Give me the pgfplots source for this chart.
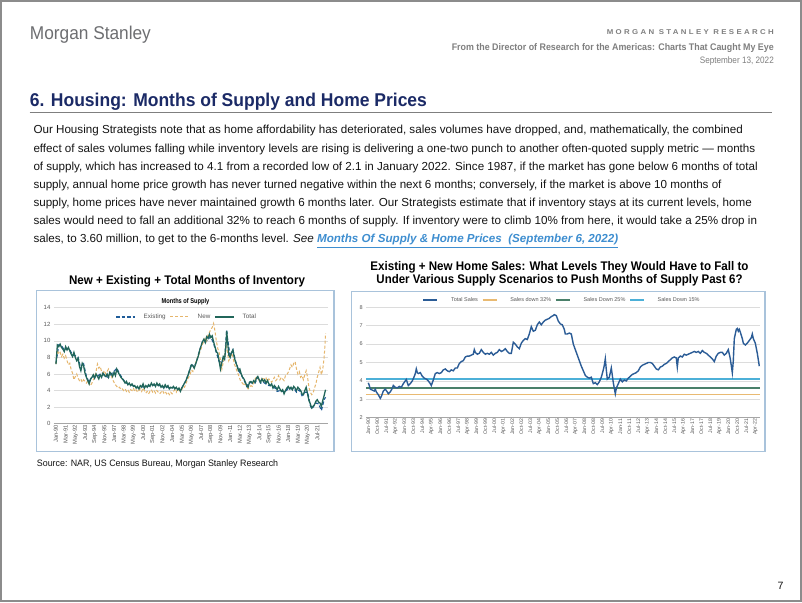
\documentclass[border=0pt]{standalone}
\usepackage{fontspec}
\setmainfont{Liberation Sans}
\usepackage{graphicx}
\usepackage{pgfplots}
\pgfplotsset{compat=1.18}
\definecolor{pagegray}{HTML}{8C8C8C}
\definecolor{msgray}{HTML}{6D6E71}
\definecolor{headgray}{HTML}{7F7F7F}
\definecolor{navy}{HTML}{1B2A66}
\definecolor{bodytext}{HTML}{141414}
\definecolor{linkblue}{HTML}{3E8ED0}
\definecolor{framebl}{HTML}{A9C3DB}
\definecolor{gridc}{HTML}{DCDCDC}
\definecolor{axisc}{HTML}{A6A6A6}
\definecolor{tickc}{HTML}{595959}
\definecolor{exblue}{HTML}{1F5C99}
\definecolor{newtan}{HTML}{E6B66C}
\definecolor{totgreen}{HTML}{21665A}
\definecolor{salesblue}{HTML}{2B5C96}
\definecolor{dtt}{HTML}{E9BA72}
\definecolor{dtf}{HTML}{4A806A}
\definecolor{dff}{HTML}{4CB0D8}
\newcommand{\fs}[1]{\fontsize{#1}{#1}\selectfont}
\begin{document}
\begin{tikzpicture}
\begin{scope}[x=1pt,y=1pt]
\fill[white] (0,0) rectangle (802,602);
\draw[pagegray,line width=2] (1,1) rectangle (801,601);
% header
\node[anchor=base west,inner sep=0,text=msgray] at (29.7,562.5) {\resizebox{121pt}{\height}{\fs{18.5}Morgan Stanley}};
\node[anchor=base east,inner sep=0,text=headgray] at (774,567.3) {\resizebox{167pt}{\height}{\fs{7}\bfseries\addfontfeature{LetterSpace=30}MORGAN STANLEY RESEARCH}};
\node[anchor=base east,inner sep=0,text=headgray] at (774,551.3) {\resizebox{322pt}{\height}{\fs{9.6}\bfseries From the Director of Research for the Americas: Charts That Caught My Eye}};
\node[anchor=base east,inner sep=0,text=headgray] at (774,538.7) {\resizebox{74pt}{\height}{\fs{9.3}September 13, 2022}};
\node[anchor=base west,inner sep=0,text=navy] at (29.7,495.5) {\resizebox{397pt}{\height}{\fs{18.5}\bfseries 6. Housing: Months of Supply and Home Prices}};
\draw[headgray,line width=1] (29.7,489.7) -- (772,489.7);
% paragraph
\begin{scope}[every node/.style={anchor=base west,inner sep=0,text=bodytext,font=\fs{11.63}}]
\node at (33.3,468) {Our Housing Strategists note that as home affordability has deteriorated, sales volumes have dropped, and, mathematically, the combined};
\node at (33.3,449.85) {effect of sales volumes falling while inventory levels are rising is delivering a one-two punch to another often-quoted supply metric — months};
\node at (33.3,431.7) {of supply, which has increased to 4.1 from a recorded low of 2.1 in January 2022. Since 1987, if the market has gone below 6 months of total};
\node at (33.3,413.55) {supply, annual home price growth has never turned negative within the next 6 months; conversely, if the market is above 10 months of};
\node at (33.3,395.4) {supply, home prices have never maintained growth 6 months later. Our Strategists estimate that if inventory stays at its current levels, home};
\node at (33.3,377.25) {sales would need to fall an additional 32\% to reach 6 months of supply. If inventory were to climb 10\% from here, it would take a 25\% drop in};
\node at (33.3,359.1) {sales, to 3.60 million, to get to the 6-months level. \textit{See} {\color{linkblue}\bfseries\itshape\underline{Months Of Supply \& Home Prices\ \ (September 6, 2022)}}};
\end{scope}
% chart titles
\node[anchor=base,inner sep=0] at (187,317) {\resizebox{236pt}{\height}{\fs{12.5}\bfseries New + Existing + Total Months of Inventory}};
\node[anchor=base,inner sep=0] at (559.5,331.3) {\resizebox{378pt}{\height}{\fs{12.5}\bfseries Existing + New Home Sales: What Levels They Would Have to Fall to}};
\node[anchor=base,inner sep=0] at (559.5,318) {\resizebox{366pt}{\height}{\fs{12.5}\bfseries Under Various Supply Scenarios to Push Months of Supply Past 6?}};
% frames
\draw[framebl,line width=1.5] (36.7,150.3) rectangle (334,311.3);
\draw[framebl,line width=1.5] (351.7,150.3) rectangle (765,310.3);
\node[anchor=base,inner sep=0] at (185.5,298.7) {\resizebox{47.6pt}{\height}{\fs{7}\bfseries Months of Supply}};
% source and page number
\node[anchor=base west,inner sep=0,text=bodytext] at (36.7,135.3) {\resizebox{241.3pt}{\height}{\fs{9.3}Source: NAR, US Census Bureau, Morgan Stanley Research}};
\node[anchor=base west,inner sep=0,text=bodytext] at (777.3,12.7) {\fs{10.6}7};
\end{scope}

% ---------------- left chart
\begin{axis}[
  at={(53.9pt,178.3pt)}, anchor=south west, scale only axis,
  width=274.4pt, height=116pt,
  xmin=-3, xmax=394, ymin=0, ymax=14, enlargelimits=false, clip=false,
  axis line style={draw=none}, major tick length=0pt,
  ytick={0,2,...,14}, ymajorgrids, grid style={gridc,line width=0.6pt},
  xtick={0,14,...,378},
  xticklabels={Jan-90,Mar-91,May-92,Jul-93,Sep-94,Nov-95,Jan-97,Mar-98,May-99,Jul-00,Sep-01,Nov-02,Jan-04,Mar-05,May-06,Jul-07,Sep-08,Nov-09,Jan-11,Mar-12,May-13,Jul-14,Sep-15,Nov-16,Jan-18,Mar-19,May-20,Jul-21},
  xticklabel style={rotate=90,anchor=east,font=\fs{5.8},text=tickc,inner sep=1pt},
  yticklabel style={font=\fs{6},text=tickc},
  /pgf/number format/assume math mode=true,
  legend style={at={(0.484,0.92)},anchor=center,draw=none,fill=none,font=\fs{6.3},text=tickc,legend columns=3,
    /tikz/every even column/.append style={column sep=2pt},/tikz/every odd column/.append style={column sep=6pt}},
  legend image code/.code={\draw[#1] (0pt,0pt) -- (19pt,0pt);},
]
\draw[axisc,line width=1.2pt] (axis cs:-3,0) -- (axis cs:394,0);
\addplot[exblue,line width=1.2pt,dash pattern=on 3.5pt off 2pt] coordinates {
(0,7.3)(4,9.5)(8,9.4)(12,8.9)(16,9.1)(20,8.9)(24,8.3)(28,8.2)(32,8.0)(36,6.6)(40,7.2)(44,5.7)(48,5.0)(52,5.7)(56,5.6)(60,5.7)(64,6.0)(68,6.1)(72,5.7)(76,5.6)(80,6.0)(84,6.3)(88,6.7)(92,6.0)(96,5.5)(100,5.0)(104,4.8)(108,4.7)(112,4.6)(116,4.4)(120,4.3)(124,4.5)(128,4.4)(132,4.5)(136,4.6)(140,4.7)(144,4.6)(148,4.7)(152,4.5)(156,4.4)(160,4.5)(164,4.3)(168,4.4)(172,4.3)(176,4.2)(180,4.0)(184,4.6)(188,5.2)(192,6.1)(196,7.2)(200,6.8)(204,7.7)(208,8.9)(212,9.9)(216,9.8)(220,10.2)(224,10.5)(228,9.7)(232,8.6)(236,7.5)(240,7.4)(244,7.8)(247,11.3)(248,10.4)(252,8.1)(256,8.9)(260,7.5)(264,6.5)(268,5.9)(272,5.3)(276,4.5)(280,5.0)(284,4.9)(288,4.9)(292,5.6)(296,4.9)(300,5.0)(304,4.8)(308,4.6)(312,4.6)(316,4.4)(320,3.9)(324,4.0)(328,3.9)(332,3.8)(336,4.3)(340,4.2)(344,4.3)(348,3.8)(352,4.1)(356,3.4)(360,3.8)(364,3.8)(368,2.2)(370,1.8)(372,2.0)(376,2.5)(380,2.4)(384,1.6)(388,2.9)(390,3.2)
};
\addlegendentry{Existing}
\addplot[newtan,line width=1pt,dash pattern=on 3pt off 2pt] coordinates {
(0,7.2)(2,8.9)(4,8.4)(6,8.6)(8,8.1)(10,8.4)(12,7.9)(14,8.2)(16,7.6)(18,7.1)(20,7.3)(22,6.5)(24,6.1)(26,5.3)(28,5.7)(30,6.0)(32,5.5)(34,5.2)(36,5.4)(38,5.0)(40,5.3)(42,5.1)(44,4.9)(46,5.2)(48,4.8)(50,4.6)(52,4.9)(54,5.3)(56,5.6)(58,6.3)(60,7.2)(62,6.7)(64,6.9)(66,6.3)(68,6.1)(70,6.4)(72,6.0)(74,6.3)(76,6.6)(78,6.2)(80,5.8)(82,5.3)(84,5.0)(86,4.7)(88,4.5)(90,4.3)(92,4.4)(94,4.1)(96,4.2)(98,4.0)(100,4.2)(102,3.9)(104,4.1)(106,3.8)(108,4.1)(110,4.0)(112,4.3)(114,3.9)(116,4.1)(118,3.8)(120,4.0)(122,4.2)(124,3.9)(126,4.3)(128,4.0)(130,3.7)(132,3.9)(134,3.6)(136,3.9)(138,4.1)(140,3.8)(142,4.0)(144,3.7)(146,4.0)(148,3.8)(150,3.6)(152,3.8)(154,4.0)(156,3.7)(158,3.9)(160,3.6)(162,3.8)(164,3.5)(166,3.8)(168,3.6)(170,3.9)(172,4.1)(174,3.8)(176,4.2)(178,4.0)(180,4.3)(182,4.1)(184,4.5)(186,4.4)(188,4.8)(190,5.3)(192,5.6)(194,5.9)(196,6.5)(198,6.3)(200,6.8)(202,7.3)(204,7.8)(206,8.2)(208,8.6)(210,9.1)(212,9.6)(214,9.9)(216,10.4)(218,10.0)(220,10.8)(222,11.0)(224,11.4)(226,11.6)(228,12.1)(230,11.2)(232,10.0)(234,9.1)(236,8.6)(238,7.7)(240,6.6)(242,7.4)(244,8.0)(246,9.4)(248,8.7)(250,7.6)(252,8.0)(254,8.5)(256,8.1)(258,7.2)(260,6.8)(262,6.3)(264,5.9)(266,5.4)(268,5.0)(270,4.9)(272,4.6)(274,4.8)(276,4.5)(278,4.2)(280,4.4)(282,4.6)(284,4.5)(286,5.0)(288,5.4)(290,5.6)(292,5.5)(294,5.2)(296,5.4)(298,5.3)(300,5.6)(302,5.2)(304,5.5)(306,5.1)(308,5.4)(310,5.2)(312,5.0)(314,5.3)(316,5.6)(318,5.2)(320,5.4)(322,5.8)(324,5.3)(326,5.6)(328,5.4)(330,5.2)(332,5.8)(334,5.9)(336,6.2)(338,6.6)(340,7.1)(342,6.8)(344,7.3)(346,7.5)(348,6.6)(350,6.0)(352,6.3)(354,5.6)(356,5.8)(358,5.3)(360,5.9)(362,6.4)(364,5.6)(366,4.4)(368,3.8)(370,3.5)(372,3.7)(374,4.3)(376,4.8)(378,5.6)(380,6.2)(382,6.8)(384,5.9)(386,6.6)(388,8.0)(389,9.3)(390,10.9)
};
\addlegendentry{New}
\addplot[totgreen,line width=1.3pt] coordinates {
(0,7.2)(2,9.5)(4,9.3)(6,9.6)(8,9.2)(10,9.0)(12,8.7)(14,9.3)(16,8.9)(18,9.2)(20,8.8)(22,8.4)(24,8.1)(26,8.6)(28,8.0)(30,7.6)(32,7.9)(34,6.9)(36,6.4)(38,7.3)(40,7.0)(42,6.1)(44,5.6)(46,5.2)(48,4.8)(50,5.4)(52,5.6)(54,5.9)(56,5.5)(58,6.0)(60,5.7)(62,5.4)(64,5.9)(66,5.6)(68,6.1)(70,5.8)(72,5.7)(74,6.0)(76,5.6)(78,6.2)(80,6.0)(82,5.7)(84,6.2)(86,5.8)(88,6.6)(90,6.2)(92,5.9)(94,5.6)(96,5.4)(98,5.2)(100,4.9)(102,5.1)(104,4.7)(106,4.9)(108,4.6)(110,4.8)(112,4.5)(114,4.6)(116,4.3)(118,4.5)(120,4.2)(122,4.6)(124,4.4)(126,4.8)(128,4.3)(130,4.6)(132,4.4)(134,4.7)(136,4.5)(138,4.9)(140,4.6)(142,4.8)(144,4.5)(146,4.9)(148,4.6)(150,4.8)(152,4.4)(154,4.6)(156,4.3)(158,4.7)(160,4.4)(162,4.6)(164,4.2)(166,4.4)(168,4.3)(170,4.5)(172,4.2)(174,4.4)(176,4.1)(178,4.3)(180,3.9)(182,4.3)(184,4.6)(186,4.9)(188,5.2)(190,5.6)(192,6.1)(194,6.6)(196,7.1)(198,7.0)(200,6.7)(202,7.2)(204,7.7)(206,8.2)(208,8.9)(210,9.4)(212,9.9)(214,10.2)(216,9.8)(218,10.5)(220,10.3)(222,10.8)(224,10.4)(226,10.6)(228,9.9)(230,9.3)(232,8.7)(234,8.5)(236,7.6)(238,6.6)(240,7.4)(242,8.1)(244,7.8)(246,9.5)(247,11.2)(248,10.2)(250,8.3)(252,8.0)(254,8.6)(256,8.9)(258,8.0)(260,7.4)(262,7.0)(264,6.4)(266,6.6)(268,6.0)(270,5.6)(272,5.4)(274,5.0)(276,4.6)(278,4.4)(280,5.0)(282,5.1)(284,4.9)(286,5.2)(288,5.0)(290,5.5)(292,5.7)(294,5.3)(296,5.0)(298,5.4)(300,5.1)(302,5.3)(304,4.9)(306,5.2)(308,4.8)(310,4.6)(312,4.8)(314,4.3)(316,4.6)(318,4.4)(320,4.1)(322,4.5)(324,4.2)(326,3.9)(328,4.1)(330,3.6)(332,4.0)(334,4.3)(336,4.5)(338,4.2)(340,4.4)(342,4.1)(344,4.5)(346,4.3)(348,4.0)(350,4.4)(352,4.2)(354,4.0)(356,3.6)(358,3.5)(360,4.0)(362,4.4)(364,3.6)(366,2.8)(368,2.4)(370,1.9)(372,2.1)(374,2.3)(376,2.7)(378,2.9)(380,2.6)(382,2.5)(384,2.1)(386,2.8)(388,3.4)(390,4.1)
};
\addlegendentry{Total}
\end{axis}

% ---------------- right chart
\begin{axis}[
  at={(366.3pt,184.3pt)}, anchor=south west, scale only axis,
  width=394pt, height=110.4pt,
  xmin=-2, xmax=392, ymin=2, ymax=8, enlargelimits=false, clip=false,
  axis line style={draw=none}, major tick length=0pt,
  ytick={2,3,...,8}, ymajorgrids, grid style={gridc,line width=0.6pt},
  xtick={0,9,...,387},
  xticklabels={Jan-90,Oct-90,Jul-91,Apr-92,Jan-93,Oct-93,Jul-94,Apr-95,Jan-96,Oct-96,Jul-97,Apr-98,Jan-99,Oct-99,Jul-00,Apr-01,Jan-02,Oct-02,Jul-03,Apr-04,Jan-05,Oct-05,Jul-06,Apr-07,Jan-08,Oct-08,Jul-09,Apr-10,Jan-11,Oct-11,Jul-12,Apr-13,Jan-14,Oct-14,Jul-15,Apr-16,Jan-17,Oct-17,Jul-18,Apr-19,Jan-20,Oct-20,Jul-21,Apr-22},
  xticklabel style={rotate=90,anchor=east,font=\fs{5.2},text=tickc,inner sep=1pt},
  yticklabel style={font=\fs{5.5},text=tickc},
  /pgf/number format/assume math mode=true,
  legend style={at={(0.497,1.067)},anchor=center,draw=none,fill=none,font=\fs{5.5},text=tickc,legend columns=4,
    /tikz/every even column/.append style={column sep=2pt},/tikz/every odd column/.append style={column sep=11pt}},
  legend image code/.code={\draw[#1] (0pt,0pt) -- (14pt,0pt);},
]
\draw[axisc,line width=1.2pt] (axis cs:-2,2) -- (axis cs:392,2);
\addplot[dtt,line width=1.3pt,forget plot] coordinates {(-2,3.25)(392,3.25)};
\addplot[dtf,line width=1.8pt,forget plot] coordinates {(-2,3.6)(392,3.6)};
\addplot[dff,line width=1.4pt,forget plot] coordinates {(-2,4.1)(392,4.1)};
\addplot[salesblue,line width=1.4pt] coordinates {
(0,3.90)(1,3.75)(2,3.55)(4,3.50)(6,3.45)(7,3.55)(8,3.40)(10,3.25)(12,3.05)(13,3.15)(15,3.45)(17,3.55)(19,3.40)(20,3.30)(22,3.40)(24,3.60)(25,3.75)(27,3.65)(29,3.62)(31,3.70)(33,3.65)(35,3.85)(37,4.00)(38,4.08)(40,3.75)(42,3.85)(44,4.00)(46,4.25)(47,4.40)(48,4.65)(49,4.45)(50,4.40)(52,4.45)(54,4.25)(56,4.15)(58,4.10)(60,4.00)(62,3.85)(63,3.75)(65,4.05)(67,4.40)(69,4.45)(71,4.40)(73,4.45)(75,4.60)(77,4.65)(79,4.55)(81,4.50)(83,4.60)(85,4.55)(87,4.70)(89,4.70)(91,4.95)(93,5.05)(95,5.10)(97,5.30)(99,5.35)(101,5.35)(103,5.40)(105,5.45)(106,5.70)(107,5.55)(109,5.45)(111,5.50)(113,5.70)(115,5.55)(117,5.45)(119,5.50)(121,5.45)(123,5.55)(125,5.40)(127,5.50)(129,5.55)(131,5.70)(133,5.60)(135,5.65)(137,5.75)(139,5.60)(141,5.50)(143,5.50)(145,6.10)(147,6.00)(149,5.85)(151,5.75)(153,6.05)(155,6.20)(157,6.30)(159,6.25)(161,6.55)(163,6.95)(165,6.70)(167,6.75)(169,7.05)(171,7.20)(173,7.05)(175,7.20)(177,7.30)(179,7.35)(181,7.40)(183,7.50)(185,7.55)(186,7.60)(188,7.55)(190,7.25)(192,7.10)(194,7.05)(196,6.80)(197,6.55)(199,6.55)(201,6.60)(203,6.55)(205,6.00)(207,5.70)(209,5.40)(211,5.10)(213,4.80)(215,4.55)(217,4.30)(219,4.20)(221,4.15)(223,4.20)(225,3.85)(227,3.90)(229,3.80)(231,3.95)(233,4.20)(235,4.60)(236,4.85)(237,5.20)(238,4.60)(239,4.10)(241,4.20)(243,4.70)(245,3.90)(247,3.30)(248,3.60)(250,3.85)(252,4.10)(254,3.95)(256,4.05)(258,4.00)(260,4.15)(262,4.25)(264,4.35)(266,4.40)(268,4.45)(270,4.55)(272,4.75)(274,4.85)(276,4.90)(278,4.95)(280,5.00)(282,5.00)(284,4.95)(286,4.80)(288,4.65)(290,4.60)(292,4.75)(294,4.80)(296,4.90)(298,4.95)(300,5.05)(302,5.15)(304,5.25)(306,5.30)(308,5.25)(309,4.75)(310,5.25)(312,5.35)(314,5.30)(316,5.45)(318,5.40)(320,5.45)(322,5.50)(324,5.55)(326,5.60)(328,5.55)(330,5.60)(332,5.50)(334,5.65)(336,5.55)(338,5.50)(340,5.40)(342,5.30)(344,5.20)(346,5.05)(348,5.35)(350,5.50)(352,5.55)(354,5.55)(356,5.40)(358,5.50)(360,5.70)(362,5.20)(364,4.45)(365,5.10)(366,6.30)(367,6.55)(368,6.80)(369,6.85)(370,6.70)(371,6.80)(372,6.65)(374,6.30)(375,6.05)(377,5.95)(379,6.05)(381,6.20)(383,6.35)(384,6.55)(385,6.30)(387,6.05)(389,5.50)(391,4.80)
};
\addlegendentry{Total Sales}
\addlegendimage{dtt,line width=1.3pt}
\addlegendentry{Sales down 32\%}
\addlegendimage{dtf,line width=1.3pt}
\addlegendentry{Sales Down 25\%}
\addlegendimage{dff,line width=1.3pt}
\addlegendentry{Sales Down 15\%}
\end{axis}
\end{tikzpicture}
\end{document}
